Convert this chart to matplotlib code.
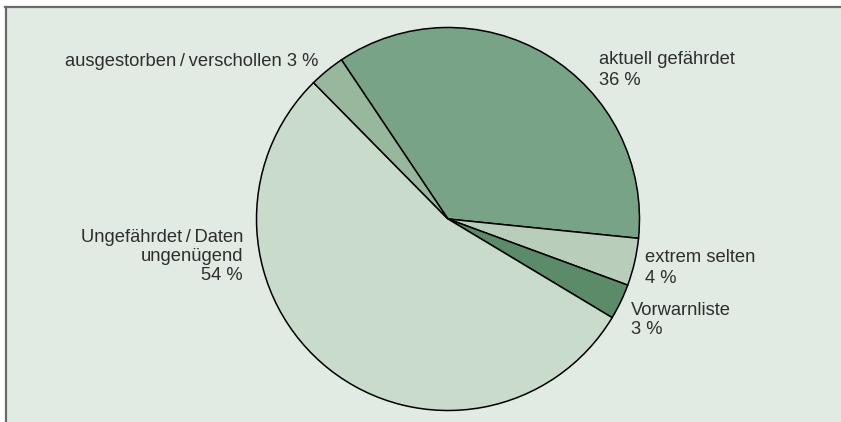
import matplotlib
matplotlib.use('Agg')
import matplotlib.pyplot as plt
from matplotlib.patches import Rectangle
from matplotlib.lines import Line2D

# Anteile (Prozent), im Uhrzeigersinn ab "aktuell gefährdet"
categories = ['aktuell gefährdet', 'extrem selten', 'Vorwarnliste',
              'Ungefährdet\u2009/\u2009Daten\nungenügend', 'ausgestorben\u2009/\u2009verschollen']
shares = [36, 4, 3, 54, 3]
colors = ['#79a387', '#b8cebb', '#5b8b69', '#c9dbcb', '#98b89e']

bg = '#e1ebe3'
text_color = '#2e2e2e'

W, H = 841, 422
fig = plt.figure(figsize=(W / 100, H / 100), dpi=100)
fig.patch.set_facecolor('white')
ax = fig.add_axes([0, 0, 1, 1])
ax.set_axis_off()

# Hintergrund und Rahmen (nur oben und links sichtbar)
ax.add_patch(Rectangle((6, 0), W - 6, H - 7, facecolor=bg, edgecolor='none', zorder=0))
ax.add_line(Line2D([5, W], [H - 7, H - 7], color='#6a6a6a', lw=1.6, zorder=1))
ax.add_line(Line2D([6, 6], [0, H - 7], color='#6a6a6a', lw=1.6, zorder=1))

ax.pie(shares, colors=colors, startangle=123.8, counterclock=False,
       center=(448, H - 219), radius=191.5, frame=True,
       wedgeprops={'edgecolor': 'black', 'linewidth': 1.1})

fs = 13.2
font = {'family': ['Liberation Sans', 'DejaVu Sans'], 'size': fs, 'color': text_color}

# va='baseline' richtet bei mehrzeiligem Text an der letzten Zeile aus
ax.text(318, H - 66, f'{categories[4]} {shares[4]} %', ha='right', va='baseline', **font)
ax.text(599, H - 85, f'{categories[0]}\n{shares[0]} %', ha='left', va='baseline',
        linespacing=1.3, **font)
ax.text(645, H - 283, f'{categories[1]}\n{shares[1]} %', ha='left', va='baseline',
        linespacing=1.3, **font)
ax.text(631, H - 334, f'{categories[2]}\n{shares[2]} %', ha='left', va='baseline',
        linespacing=1.17, **font)
ax.text(243, H - 280, f'{categories[3]}\n{shares[3]} %', ha='right', va='baseline',
        multialignment='right', linespacing=1.17, **font)

ax.set_xlim(0, W)
ax.set_ylim(0, H)
ax.set_aspect('auto')

fig.savefig('out.png', dpi=100, facecolor=fig.get_facecolor())
